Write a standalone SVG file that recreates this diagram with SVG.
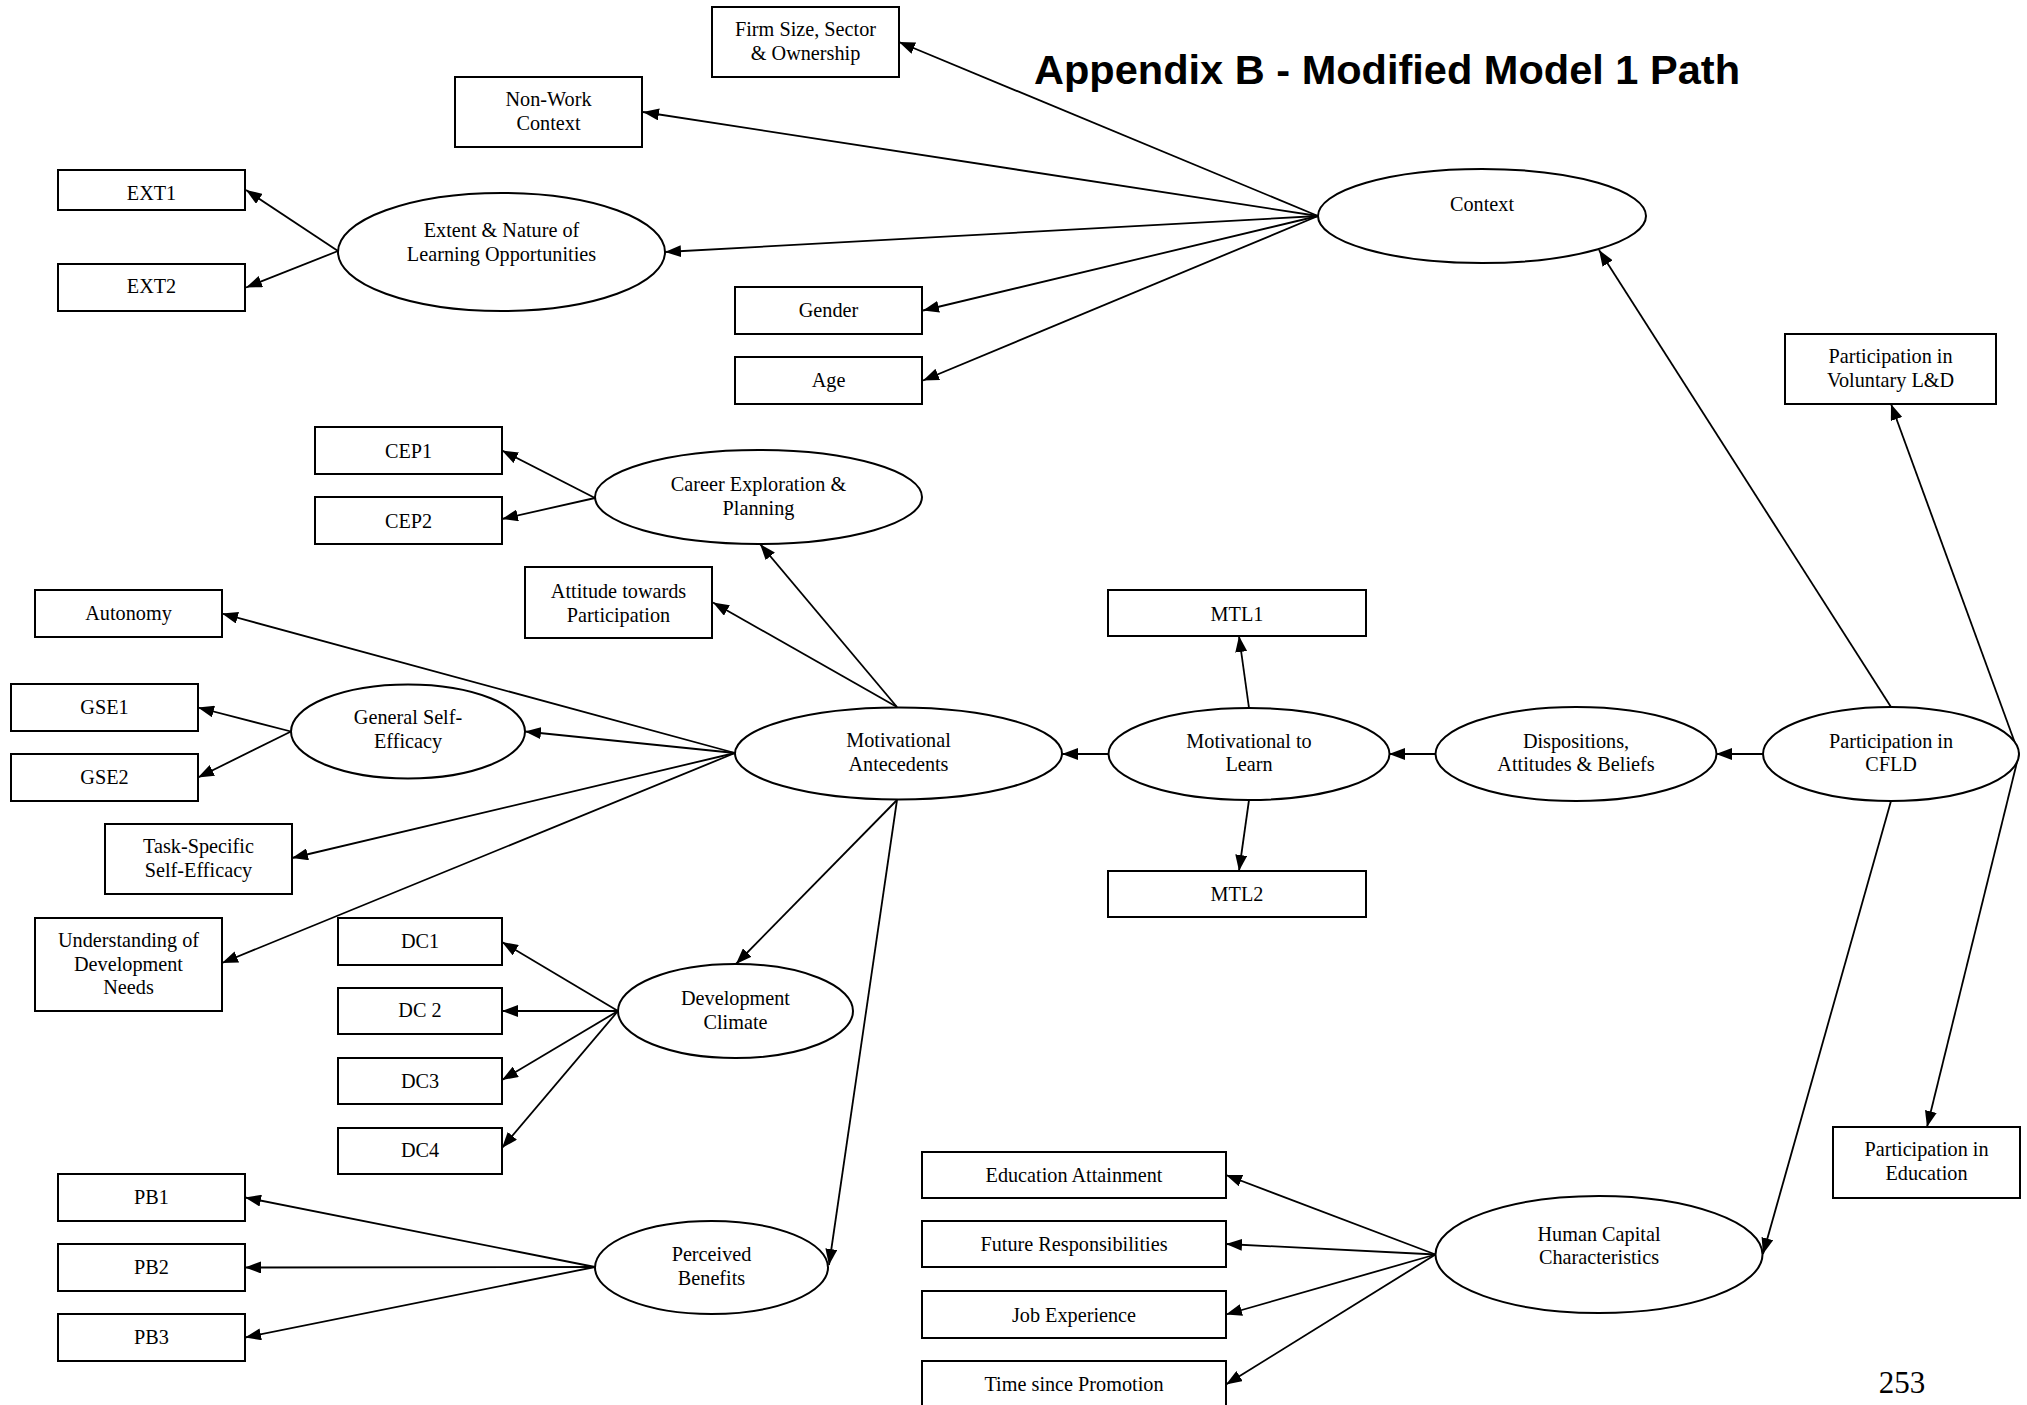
<svg xmlns="http://www.w3.org/2000/svg" width="2027" height="1405" viewBox="0 0 2027 1405">
<style>
.bx{fill:#fff;stroke:#000;stroke-width:2}
.el{fill:#fff;stroke:#000;stroke-width:2}
.t{font-family:"Liberation Serif","Times New Roman",serif;font-size:22px;fill:#000;text-anchor:middle}
.pg{font-family:"Liberation Serif","Times New Roman",serif;font-size:31px;fill:#000;text-anchor:middle}
.cn line{stroke:#000;stroke-width:1.8;marker-end:url(#ah)}
.title{font-family:"Liberation Sans",Arial,sans-serif;font-weight:bold;font-size:41px;fill:#000}
</style>
<defs>
<marker id="ah" viewBox="0 0 16 12" refX="16" refY="6" markerWidth="16" markerHeight="12" markerUnits="userSpaceOnUse" orient="auto">
<path d="M0,0 L16,6 L0,12 Z" fill="#000"/>
</marker>
</defs>
<rect width="2027" height="1405" fill="#fff"/>
<text class="title" x="1034" y="84" textLength="706" lengthAdjust="spacingAndGlyphs">Appendix B - Modified Model 1 Path</text>
<text class="pg" x="1902" y="1393">253</text>

<g id="connectors" class="cn">
<line x1="1318" y1="216" x2="899" y2="42"/>
<line x1="1318" y1="216" x2="643" y2="112"/>
<line x1="1318" y1="216" x2="665" y2="252"/>
<line x1="1318" y1="216" x2="923" y2="310.5"/>
<line x1="1318" y1="216" x2="923" y2="380.5"/>
<line x1="338" y1="251" x2="246" y2="190"/>
<line x1="338" y1="251" x2="246" y2="287.5"/>
<line x1="1891" y1="707" x2="1599" y2="250"/>
<line x1="2019" y1="754" x2="1891" y2="404"/>
<line x1="2019" y1="754" x2="1927" y2="1127"/>
<line x1="1763" y1="754" x2="1716" y2="754"/>
<line x1="1891" y1="801" x2="1763" y2="1254"/>
<line x1="1435" y1="754" x2="1389" y2="754"/>
<line x1="1108" y1="754" x2="1062" y2="754"/>
<line x1="1249" y1="708" x2="1239" y2="636"/>
<line x1="1249" y1="800" x2="1239" y2="871"/>
<line x1="897" y1="707" x2="760" y2="544"/>
<line x1="897" y1="707" x2="713" y2="602.5"/>
<line x1="735" y1="753" x2="222" y2="613.5"/>
<line x1="735" y1="753" x2="525" y2="731.5"/>
<line x1="735" y1="753" x2="292" y2="858"/>
<line x1="735" y1="753" x2="222" y2="963"/>
<line x1="897" y1="800" x2="736" y2="964"/>
<line x1="897" y1="800" x2="829" y2="1265"/>
<line x1="291" y1="731.5" x2="198" y2="707.5"/>
<line x1="291" y1="731.5" x2="198" y2="777.5"/>
<line x1="595" y1="498" x2="502" y2="450.5"/>
<line x1="595" y1="498" x2="502" y2="519"/>
<line x1="618" y1="1011" x2="502" y2="942"/>
<line x1="618" y1="1011" x2="502" y2="1011"/>
<line x1="618" y1="1011" x2="502" y2="1080"/>
<line x1="618" y1="1011" x2="502" y2="1148"/>
<line x1="595" y1="1267" x2="245" y2="1197.5"/>
<line x1="595" y1="1267" x2="245" y2="1267.5"/>
<line x1="595" y1="1267" x2="245" y2="1337.5"/>
<line x1="1435.5" y1="1254.5" x2="1226" y2="1175"/>
<line x1="1435.5" y1="1254.5" x2="1226" y2="1244"/>
<line x1="1435.5" y1="1254.5" x2="1226" y2="1314.5"/>
<line x1="1435.5" y1="1254.5" x2="1226" y2="1384.5"/>
</g>

<g id="firm-size"><rect class="bx" x="712" y="7" width="187" height="70"/>
<text class="t" transform="translate(805.5 0) scale(0.92 1)"><tspan x="0" y="36">Firm Size, Sector</tspan><tspan x="0" y="60">&amp; Ownership</tspan></text></g>

<g id="non-work"><rect class="bx" x="455" y="77" width="187" height="70"/>
<text class="t" transform="translate(548.5 0) scale(0.92 1)"><tspan x="0" y="106">Non-Work</tspan><tspan x="0" y="130">Context</tspan></text></g>

<g id="ext1"><rect class="bx" x="58" y="170" width="187" height="40"/>
<text class="t" transform="translate(151.5 0) scale(0.92 1)" x="0" y="200.5">EXT1</text></g>

<g id="ext2"><rect class="bx" x="58" y="264" width="187" height="47"/>
<text class="t" transform="translate(151.5 0) scale(0.92 1)" x="0" y="293">EXT2</text></g>

<g id="extent"><ellipse class="el" cx="501.5" cy="252" rx="163.5" ry="59"/>
<text class="t" transform="translate(501.5 0) scale(0.92 1)"><tspan x="0" y="237">Extent &amp; Nature of</tspan><tspan x="0" y="261">Learning Opportunities</tspan></text></g>

<g id="context"><ellipse class="el" cx="1482" cy="216" rx="164" ry="47"/>
<text class="t" transform="translate(1482 0) scale(0.92 1)" x="0" y="211">Context</text></g>

<g id="gender"><rect class="bx" x="735" y="287" width="187" height="47"/>
<text class="t" transform="translate(828.5 0) scale(0.92 1)" x="0" y="317">Gender</text></g>

<g id="age"><rect class="bx" x="735" y="357" width="187" height="47"/>
<text class="t" transform="translate(828.5 0) scale(0.92 1)" x="0" y="387">Age</text></g>

<g id="voluntary"><rect class="bx" x="1785" y="334" width="211" height="70"/>
<text class="t" transform="translate(1890.5 0) scale(0.92 1)"><tspan x="0" y="363">Participation in</tspan><tspan x="0" y="387.5">Voluntary L&amp;D</tspan></text></g>

<g id="cfld"><ellipse class="el" cx="1891" cy="754" rx="128" ry="47"/>
<text class="t" transform="translate(1891 0) scale(0.92 1)"><tspan x="0" y="748">Participation in</tspan><tspan x="0" y="771">CFLD</tspan></text></g>

<g id="dispositions"><ellipse class="el" cx="1576" cy="754" rx="140.5" ry="47"/>
<text class="t" transform="translate(1576 0) scale(0.92 1)"><tspan x="0" y="748">Dispositions,</tspan><tspan x="0" y="771">Attitudes &amp; Beliefs</tspan></text></g>

<g id="mtl"><ellipse class="el" cx="1249" cy="754" rx="140.5" ry="46"/>
<text class="t" transform="translate(1249 0) scale(0.92 1)"><tspan x="0" y="748">Motivational to</tspan><tspan x="0" y="771">Learn</tspan></text></g>

<g id="mtl1"><rect class="bx" x="1108" y="590" width="258" height="46"/>
<text class="t" transform="translate(1237 0) scale(0.92 1)" x="0" y="621">MTL1</text></g>

<g id="mtl2"><rect class="bx" x="1108" y="871" width="258" height="46"/>
<text class="t" transform="translate(1237 0) scale(0.92 1)" x="0" y="901">MTL2</text></g>

<g id="mot-antecedents"><ellipse class="el" cx="898.5" cy="753.5" rx="163.5" ry="46"/>
<text class="t" transform="translate(898.5 0) scale(0.92 1)"><tspan x="0" y="747">Motivational</tspan><tspan x="0" y="771">Antecedents</tspan></text></g>

<g id="career"><ellipse class="el" cx="758.5" cy="497" rx="163.5" ry="47"/>
<text class="t" transform="translate(758.5 0) scale(0.92 1)"><tspan x="0" y="491">Career Exploration &amp;</tspan><tspan x="0" y="515">Planning</tspan></text></g>

<g id="cep1"><rect class="bx" x="315" y="427" width="187" height="47"/>
<text class="t" transform="translate(408.5 0) scale(0.92 1)" x="0" y="458">CEP1</text></g>

<g id="cep2"><rect class="bx" x="315" y="497" width="187" height="47"/>
<text class="t" transform="translate(408.5 0) scale(0.92 1)" x="0" y="528">CEP2</text></g>

<g id="attitude"><rect class="bx" x="525" y="567" width="187" height="71"/>
<text class="t" transform="translate(618.5 0) scale(0.92 1)"><tspan x="0" y="598">Attitude towards</tspan><tspan x="0" y="622">Participation</tspan></text></g>

<g id="autonomy"><rect class="bx" x="35" y="590" width="187" height="47"/>
<text class="t" transform="translate(128.5 0) scale(0.92 1)" x="0" y="620.5">Autonomy</text></g>

<g id="gse"><ellipse class="el" cx="408" cy="731.5" rx="117" ry="47"/>
<text class="t" transform="translate(408 0) scale(0.92 1)"><tspan x="0" y="724.5">General Self-</tspan><tspan x="0" y="748">Efficacy</tspan></text></g>

<g id="gse1"><rect class="bx" x="11" y="684" width="187" height="47"/>
<text class="t" transform="translate(104.5 0) scale(0.92 1)" x="0" y="714.5">GSE1</text></g>

<g id="gse2"><rect class="bx" x="11" y="754" width="187" height="47"/>
<text class="t" transform="translate(104.5 0) scale(0.92 1)" x="0" y="784">GSE2</text></g>

<g id="task-specific"><rect class="bx" x="105" y="824" width="187" height="70"/>
<text class="t" transform="translate(198.5 0) scale(0.92 1)"><tspan x="0" y="853">Task-Specific</tspan><tspan x="0" y="877.5">Self-Efficacy</tspan></text></g>

<g id="understanding"><rect class="bx" x="35" y="918" width="187" height="93"/>
<text class="t" transform="translate(128.5 0) scale(0.92 1)"><tspan x="0" y="947">Understanding of</tspan><tspan x="0" y="971">Development</tspan><tspan x="0" y="994">Needs</tspan></text></g>

<g id="dc1"><rect class="bx" x="338" y="918" width="164" height="47"/>
<text class="t" transform="translate(420 0) scale(0.92 1)" x="0" y="948">DC1</text></g>

<g id="dc2"><rect class="bx" x="338" y="988" width="164" height="46"/>
<text class="t" transform="translate(420 0) scale(0.92 1)" x="0" y="1017">DC 2</text></g>

<g id="dc3"><rect class="bx" x="338" y="1058" width="164" height="46"/>
<text class="t" transform="translate(420 0) scale(0.92 1)" x="0" y="1088">DC3</text></g>

<g id="dc4"><rect class="bx" x="338" y="1128" width="164" height="46"/>
<text class="t" transform="translate(420 0) scale(0.92 1)" x="0" y="1157.5">DC4</text></g>

<g id="dev-climate"><ellipse class="el" cx="735.5" cy="1011" rx="117.5" ry="47"/>
<text class="t" transform="translate(735.5 0) scale(0.92 1)"><tspan x="0" y="1005">Development</tspan><tspan x="0" y="1029">Climate</tspan></text></g>

<g id="pb1"><rect class="bx" x="58" y="1174" width="187" height="47"/>
<text class="t" transform="translate(151.5 0) scale(0.92 1)" x="0" y="1204.5">PB1</text></g>

<g id="pb2"><rect class="bx" x="58" y="1244" width="187" height="47"/>
<text class="t" transform="translate(151.5 0) scale(0.92 1)" x="0" y="1274.5">PB2</text></g>

<g id="pb3"><rect class="bx" x="58" y="1314" width="187" height="47"/>
<text class="t" transform="translate(151.5 0) scale(0.92 1)" x="0" y="1344">PB3</text></g>

<g id="perceived"><ellipse class="el" cx="711.5" cy="1267.5" rx="116.5" ry="46.5"/>
<text class="t" transform="translate(711.5 0) scale(0.92 1)"><tspan x="0" y="1261">Perceived</tspan><tspan x="0" y="1285">Benefits</tspan></text></g>

<g id="human-capital"><ellipse class="el" cx="1599" cy="1254.5" rx="163.5" ry="58.5"/>
<text class="t" transform="translate(1599 0) scale(0.92 1)"><tspan x="0" y="1241">Human Capital</tspan><tspan x="0" y="1264">Characteristics</tspan></text></g>

<g id="education-attainment"><rect class="bx" x="922" y="1152" width="304" height="46"/>
<text class="t" transform="translate(1074 0) scale(0.92 1)" x="0" y="1182">Education Attainment</text></g>

<g id="future-resp"><rect class="bx" x="922" y="1221" width="304" height="46"/>
<text class="t" transform="translate(1074 0) scale(0.92 1)" x="0" y="1251.5">Future Responsibilities</text></g>

<g id="job-exp"><rect class="bx" x="922" y="1291" width="304" height="47"/>
<text class="t" transform="translate(1074 0) scale(0.92 1)" x="0" y="1322">Job Experience</text></g>

<g id="time-promotion"><rect class="bx" x="922" y="1361" width="304" height="47"/>
<text class="t" transform="translate(1074 0) scale(0.92 1)" x="0" y="1391">Time since Promotion</text></g>

<g id="part-education"><rect class="bx" x="1833" y="1127" width="187" height="71"/>
<text class="t" transform="translate(1926.5 0) scale(0.92 1)"><tspan x="0" y="1156">Participation in</tspan><tspan x="0" y="1180.5">Education</tspan></text></g>
</svg>
